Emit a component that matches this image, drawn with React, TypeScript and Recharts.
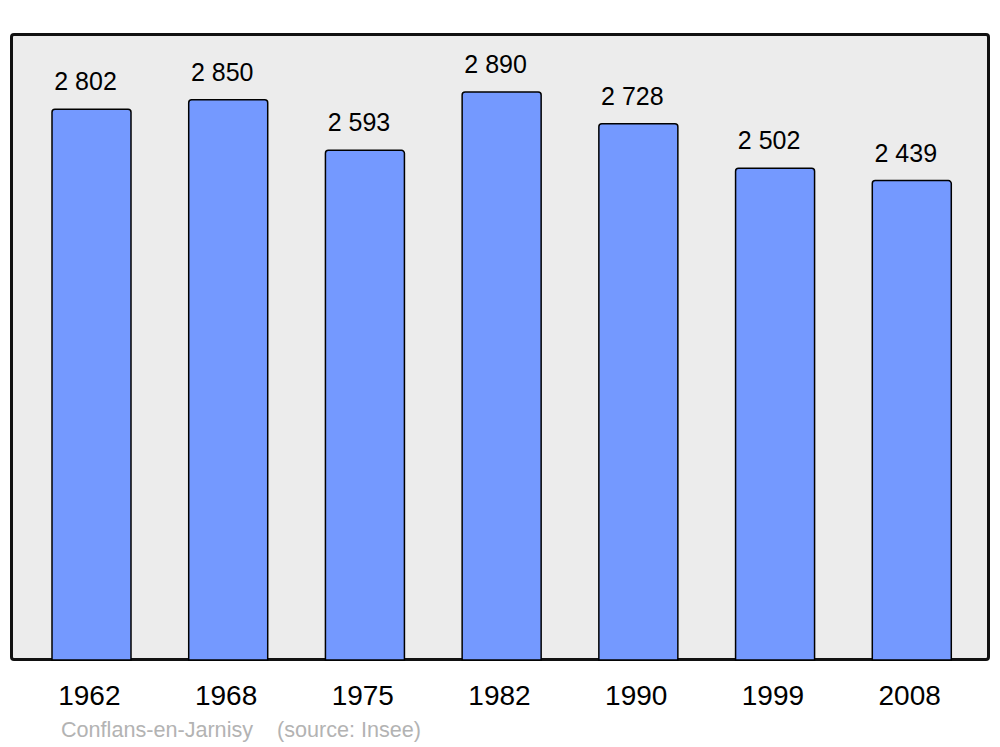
import { BarChart, Bar, XAxis, YAxis, LabelList } from "recharts";

const years = ["1962", "1968", "1975", "1982", "1990", "1999", "2008"];
const population = [2802, 2850, 2593, 2890, 2728, 2502, 2439];
const valueLabels = ["2 802", "2 850", "2 593", "2 890", "2 728", "2 502", "2 439"];

const data = years.map((year, i) => ({ year, value: population[i], label: valueLabels[i] }));

const FONT = '"Liberation Sans", Arial, sans-serif';

const ValueLabel = (props: any) => {
  const { x, y, width, value } = props;
  return (
    <text x={x + width / 2 - 6} y={y - 19} textAnchor="middle" fontSize={25} fontFamily={FONT} fill="#000">
      {value}
    </text>
  );
};

// year ticks sit ~2px left of the bar centres in the original
const YearTick = (props: any) => {
  const { x, y, payload } = props;
  return (
    <text x={x - 2} y={y + 20} textAnchor="middle" fontSize={28} fontFamily={FONT} fill="#000">
      {payload.value}
    </text>
  );
};

const App = () => {
  return (
    <div style={{ position: "absolute", left: 0, top: 0, width: 1000, height: 747, background: "#fff", fontFamily: FONT }}>
      <div
        style={{
          position: "absolute",
          left: 9.5,
          top: 33,
          width: 980,
          height: 628,
          boxSizing: "border-box",
          border: "3px solid #111",
          borderRadius: 4,
          background: "#ececec",
        }}
      />
      <div style={{ position: "absolute", left: 0, top: 0 }}>
        <BarChart width={1000} height={747} data={data} margin={{ top: 34, left: 11, right: 12, bottom: 0 }}>
          <XAxis
            dataKey="year"
            height={87}
            axisLine={false}
            tickLine={false}
            tickSize={0}
            tickMargin={25}
            padding={{ left: 12, right: 8 }}
            tick={YearTick}
            interval={0}
          />
          <YAxis hide domain={[0, 3185]} />
          <Bar
            dataKey="value"
            barSize={79}
            fill="#7499ff"
            stroke="#000"
            strokeWidth={1.5}
            radius={[3, 3, 0, 0]}
            isAnimationActive={false}
          >
            <LabelList dataKey="label" content={ValueLabel} />
          </Bar>
        </BarChart>
      </div>
      <div
        style={{
          position: "absolute",
          left: 61,
          top: 718.5,
          fontSize: 21.6,
          lineHeight: 1,
          color: "#b3b3b3",
          whiteSpace: "pre",
        }}
      >
        {"Conflans-en-Jarnisy    (source: Insee)"}
      </div>
    </div>
  );
};

export default App;
